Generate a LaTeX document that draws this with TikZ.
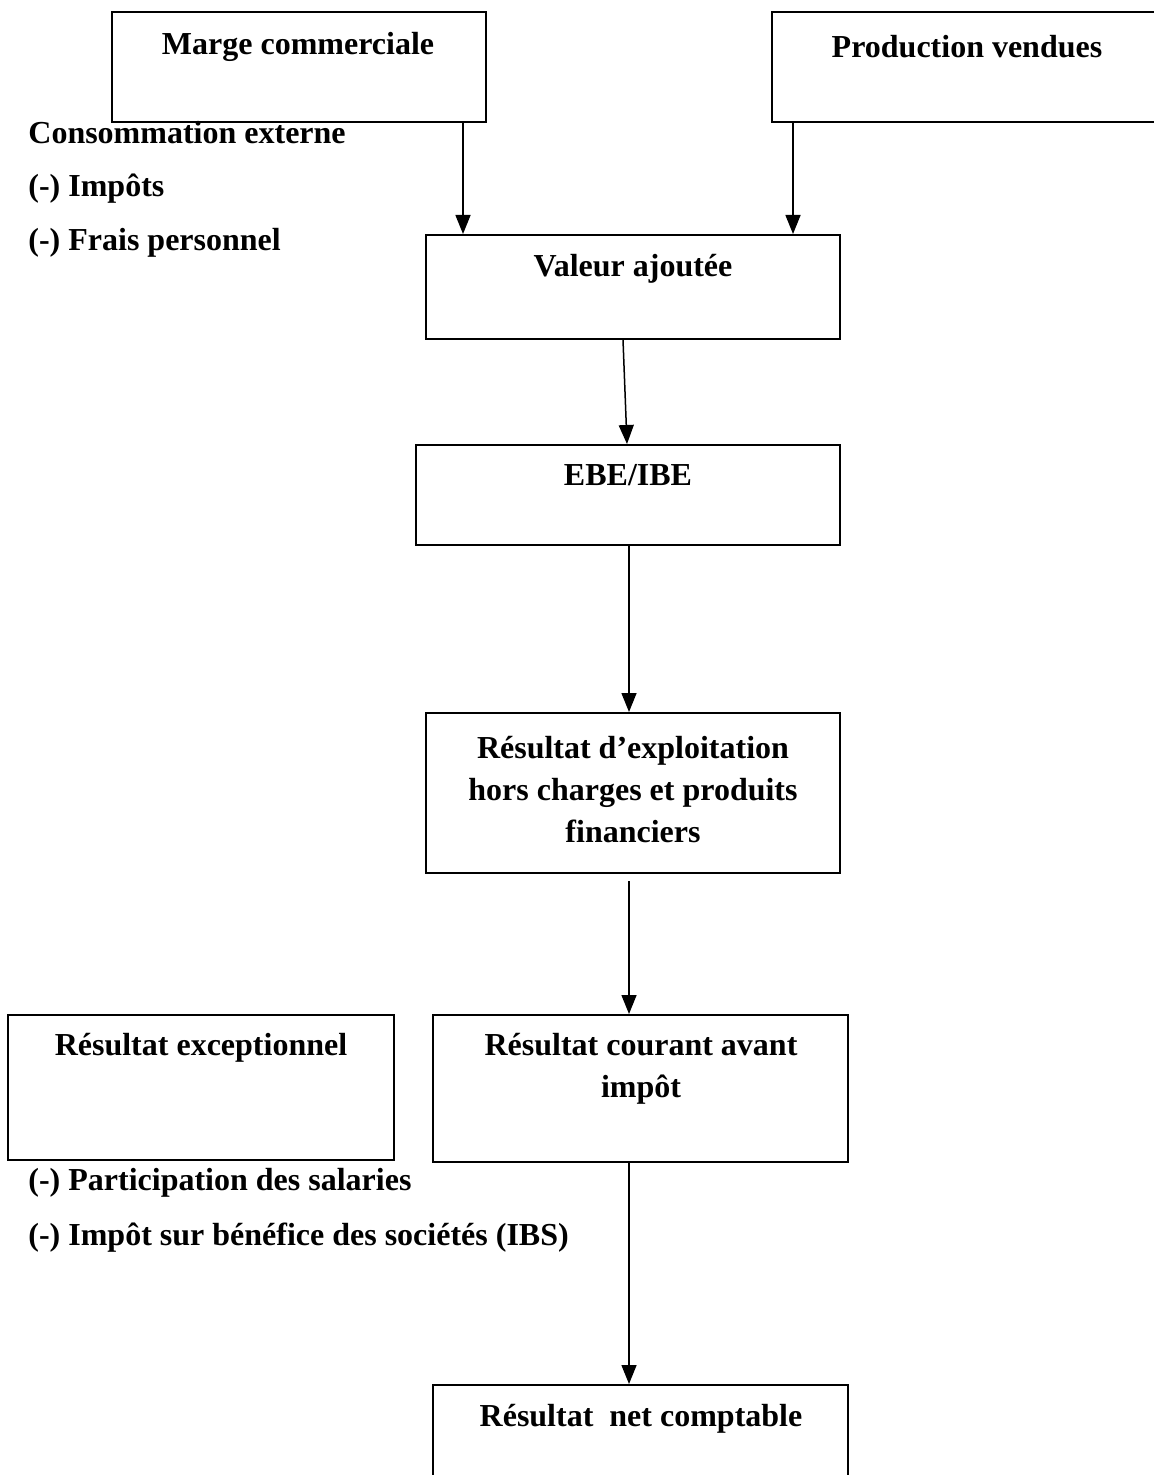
\documentclass[tikz,border=0pt]{standalone}
\usepackage{fontspec}
\setmainfont{Liberation Serif}
\usetikzlibrary{arrows.meta}
\begin{document}
\begin{tikzpicture}[x=0.5pt,y=-0.5pt,
  box/.style={draw, line width=1pt, inner sep=0pt, rectangle},
  txt/.style={inner sep=0pt, align=center, font=\bfseries\fontsize{16}{21}\selectfont},
  side/.style={inner sep=0pt, anchor=west, font=\bfseries\fontsize{16}{21}\selectfont},
  arr/.style={line width=0.75pt, -{Triangle[length=9.5pt,width=7.5pt]}}]
\useasboundingbox (0,0) rectangle (1154,1475);
% boxes
\node[box, minimum width=187pt, minimum height=55pt] (M) at (299,67) {};
\node[box, minimum width=194pt, minimum height=55pt] (P) at (966,67) {};
\node[box, minimum width=207pt, minimum height=52pt] (V) at (633,287) {};
\node[box, minimum width=212pt, minimum height=50pt] (E) at (628,495) {};
\node[box, minimum width=207pt, minimum height=80pt] (R1) at (633,793) {};
\node[box, minimum width=207.5pt, minimum height=73.5pt] (RC) at (640.5,1088.5) {};
\node[box, minimum width=193pt, minimum height=72.5pt] (RE) at (201,1087.5) {};
\node[box, minimum width=207.5pt, minimum height=52.5pt] (RN) at (640.5,1437.5) {};
% box texts
\node[txt] (tM) at (298,47) {Marge commerciale};
\node[txt] (tP) at (967,47) {Production vendues};
\node[txt] (tV) at (633,269) {Valeur ajoutée};
\node[txt] (tE) at (628,475) {EBE/IBE};
\node[txt] (tR1) at (633,790) {Résultat d’exploitation\\hors charges et produits\\financiers};
\node[txt] (tRC) at (641,1069) {Résultat courant avant\\impôt};
\node[txt] (tRE) at (201,1048) {Résultat exceptionnel};
\node[txt] (tRN) at (641,1419) {Résultat\hspace{0.25em} net comptable};
% side texts
\node[side] (s1) at (28,133) {Consommation externe};
\node[side] (s2) at (28,189) {(-) Impôts};
\node[side] (s3) at (28,243) {(-) Frais personnel};
\node[side] (s4) at (28,1183) {(-) Participation des salaries};
\node[side] (s5) at (28,1238) {(-) Impôt sur bénéfice des sociétés (IBS)};
% connectors
\coordinate (a1) at (463,0);
\coordinate (a2) at (793,0);
\draw[arr] (M.south -| a1) -- (V.north -| a1);
\draw[arr] (P.south -| a2) -- (V.north -| a2);
\draw[arr] ([xshift=-5pt]V.south) -- ([xshift=-0.5pt]E.north);
\coordinate (c) at (629,0);
\draw[arr] (E.south -| c) -- (R1.north -| c);
\draw[arr] ([yshift=-3.5pt]R1.south -| c) -- (RC.north -| c);
\draw[arr] (RC.south -| c) -- (RN.north -| c);
\end{tikzpicture}
\end{document}
